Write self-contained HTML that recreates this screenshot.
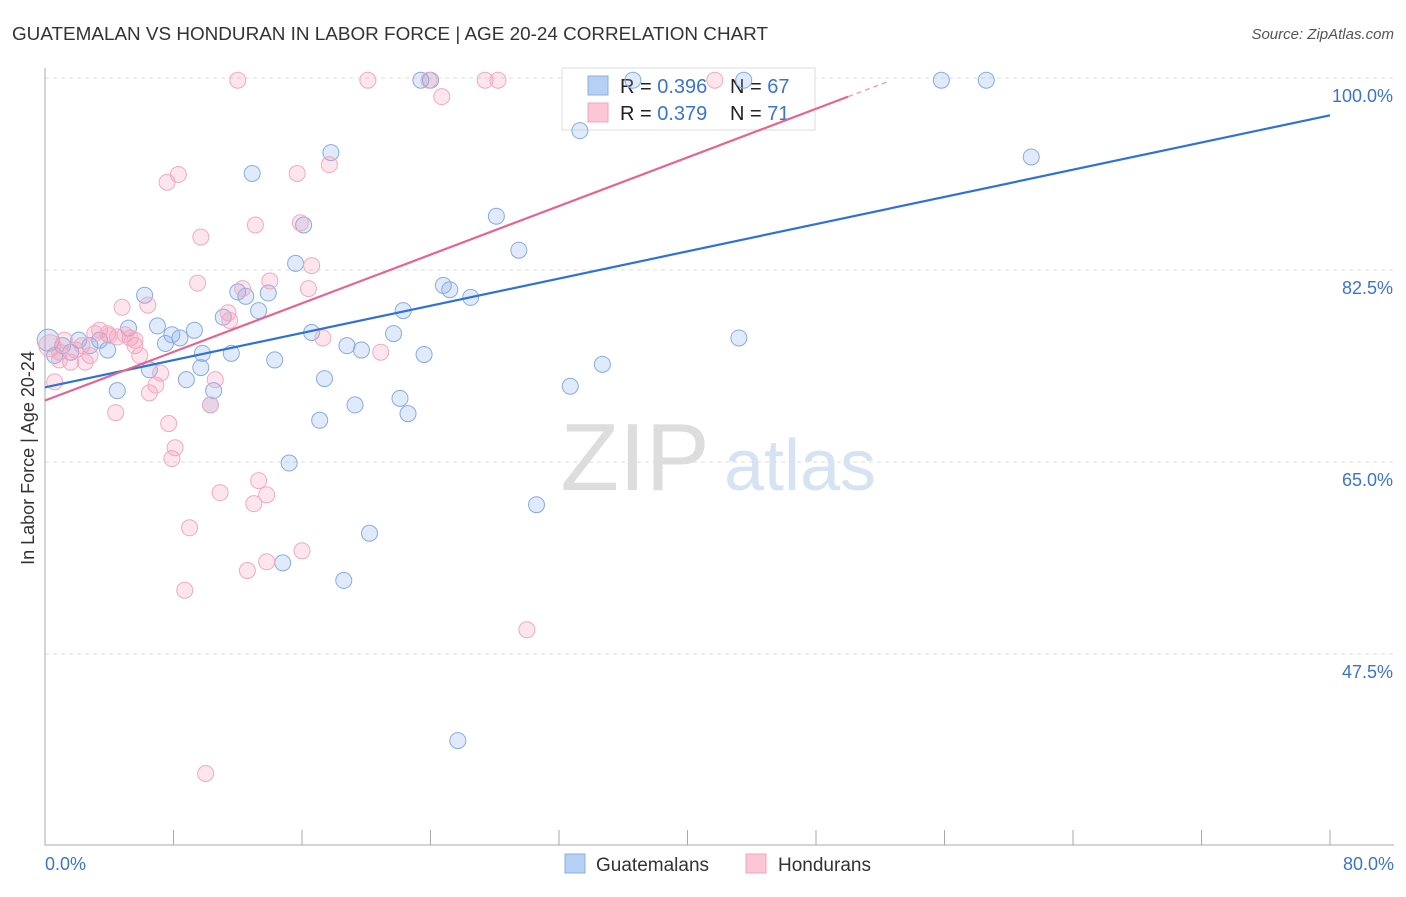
<!DOCTYPE html>
<html><head><meta charset="utf-8"><style>
body{margin:0;background:#fff;font-family:"Liberation Sans",sans-serif;}
svg text{font-family:"Liberation Sans",sans-serif;}
</style></head><body>
<svg id="c" width="1406" height="892" xmlns="http://www.w3.org/2000/svg">
<text x="12" y="40" font-size="18" fill="#333" textLength="756" lengthAdjust="spacingAndGlyphs">GUATEMALAN VS HONDURAN IN LABOR FORCE | AGE 20-24 CORRELATION CHART</text>
<text x="1394" y="39" font-size="15" fill="#555" text-anchor="end" font-style="italic">Source: ZipAtlas.com</text>
<text x="34" y="458" font-size="18" fill="#333" text-anchor="middle" transform="rotate(-90 34 458)">In Labor Force | Age 20-24</text>
<g><text x="635" y="490" font-size="96" fill="#ddd" text-anchor="middle" font-family="Liberation Serif">ZIP</text><text x="800" y="490" font-size="72" fill="#d6e3f3" text-anchor="middle">atlas</text></g>
<g id="grid"></g>
<g>
<rect x="562" y="68" width="253" height="62" fill="#fff" stroke="#ddd"/>
<rect x="588" y="76" width="20" height="19" fill="#b6d0f3" stroke="#8ab0e6"/>
<rect x="588" y="103" width="20" height="19" fill="#fbc6d5" stroke="#f3a4bd"/>
<text x="620" y="93" font-size="20" fill="#222">R = <tspan fill="#3b74d0">0.396</tspan></text>
<text x="730" y="93" font-size="20" fill="#222">N = <tspan fill="#3b74d0">67</tspan></text>
<text x="620" y="120" font-size="20" fill="#222">R = <tspan fill="#3b74d0">0.379</tspan></text>
<text x="730" y="120" font-size="20" fill="#222">N = <tspan fill="#3b74d0"> 71</tspan></text>
</g>
<g id="pts"></g><g id="lines"></g>
<g>
<rect x="565" y="854" width="20" height="19" fill="#b6d0f3" stroke="#8ab0e6"/>
<text x="596" y="871" font-size="19" fill="#333">Guatemalans</text>
<rect x="746" y="854" width="20" height="19" fill="#fbc6d5" stroke="#f3a4bd"/>
<text x="778" y="871" font-size="19" fill="#333">Hondurans</text>
</g>
</svg>
<script>
const yTicks=[100,82.5,65,47.5];
const yTickLabels=["100.0%","82.5%","65.0%","47.5%"];
const xTickLabels=["0.0%","80.0%"];
const blueX=[0.2,0.6,1.1,1.6,2.1,2.8,3.4,3.9,4.5,5.2,6.2,6.5,7.0,7.5,7.9,8.4,8.8,9.3,9.7,9.8,10.3,10.5,11.1,11.6,12.0,12.5,12.9,13.3,13.9,14.3,15.2,14.8,15.6,16.1,16.6,17.1,17.4,17.8,18.6,18.8,19.3,19.7,20.2,21.7,22.1,22.3,22.6,23.6,24.8,25.2,25.7,26.5,28.1,29.5,30.6,32.7,33.3,34.7,36.6,43.2,43.5,55.8,58.6,61.4,23.4,24.0];
const blueY=[76.1,74.7,75.6,75.0,76.1,75.6,76.1,75.2,71.5,77.2,80.2,73.4,77.4,75.8,76.6,76.3,72.5,77.0,73.6,74.9,70.2,71.5,78.2,74.9,80.5,80.1,91.3,78.8,80.4,74.3,64.9,55.8,83.1,86.6,76.8,68.8,72.6,93.2,54.2,75.6,70.2,75.2,58.5,76.7,70.8,78.8,69.4,74.8,81.1,80.7,39.6,80.0,87.4,84.3,61.1,71.9,95.2,73.9,99.8,76.3,99.8,99.8,99.8,92.8,99.8,99.8];
const pinkX=[0.3,0.6,0.9,1.2,1.6,1.9,2.3,2.8,3.1,3.4,3.9,4.4,4.5,4.8,5.3,5.6,5.9,6.4,6.5,6.9,7.2,7.6,7.7,7.9,8.1,8.3,8.7,9.0,9.5,9.7,10.0,10.3,10.6,10.9,11.4,11.5,12.0,12.3,12.6,13.0,13.1,13.3,13.8,13.8,14.0,15.7,15.9,16.0,16.4,16.6,17.3,17.7,20.1,20.9,23.9,24.7,27.4,28.2,30.0,41.7,0.9,4.0,2.5,5.6,5.0];
const pinkY=[75.6,72.3,75.0,76.1,74.1,75.2,75.6,74.7,76.7,77.0,76.7,69.5,76.4,79.1,76.3,75.6,74.7,79.3,71.3,72.0,73.1,90.5,68.5,65.3,66.3,91.2,53.3,59.0,81.3,85.5,36.6,70.2,72.5,62.2,78.6,77.9,99.8,80.8,55.1,61.2,86.6,63.3,62.0,55.9,81.5,91.3,86.8,56.9,80.8,82.9,76.3,92.1,99.8,75.0,99.8,98.3,99.8,99.8,49.7,99.8,74.3,76.5,74.1,76.1,76.6];
const trendIntercept=[71.8,70.6];
const trendSlope=[0.31,0.554];
const NS="http://www.w3.org/2000/svg";
const xs=v=>45+v/80*1285;
const ys=v=>78+(100-v)*10.97;
function mk(t,a,p){const e=document.createElementNS(NS,t);for(const k in a)e.setAttribute(k,a[k]);p.appendChild(e);return e;}
const grid=document.getElementById('grid');
yTicks.forEach((t,i)=>{
 const l=mk('line',{x1:45,x2:1394,y1:ys(t),y2:ys(t),stroke:'#ddd','stroke-dasharray':'4,4'},grid);
 
 
 const tx=mk('text',{x:1393,y:ys(t)+24,'font-size':18,fill:'#3b74d0','text-anchor':'end'},grid);
 tx.textContent=yTickLabels[i];
 
 
});
const ax=mk('line',{x1:45,x2:1394,y1:845,y2:845,stroke:'#aaa'},grid);


const ay=mk('line',{x1:45,x2:45,y1:68,y2:845,stroke:'#aaa'},grid);


for(let i=0;i<=10;i++){const t=mk('line',{x1:xs(i*8),x2:xs(i*8),y1:830,y2:845,stroke:'#aaa'},grid);
 
 }
[[0,'start',45],[80,'end',1394]].forEach((d,i)=>{const t=mk('text',{x:d[2],y:870,'font-size':18,fill:'#3b74d0','text-anchor':d[1]},grid);t.textContent=xTickLabels[i];
 
 });
const pts=document.getElementById('pts');
function series(X,Y,fill,stroke,name){X.forEach((x,i)=>{const c=mk('circle',{cx:xs(x),cy:ys(Y[i]),r:(x<0.5?11:8),fill:fill,stroke:stroke,'stroke-width':1},pts);
 
 });}
series(blueX,blueY,'rgba(130,170,235,0.25)','#85ace6','guatemalan-point');
series(pinkX,pinkY,'rgba(245,150,180,0.25)','#f2aac2','honduran-point');
const lines=document.getElementById('lines');
const b=mk('line',{x1:xs(0),y1:ys(trendIntercept[0]),x2:xs(80),y2:ys(trendIntercept[0]+80*trendSlope[0]),stroke:'#2f72d6','stroke-width':2.2},lines);


const p=mk('line',{x1:xs(0),y1:ys(trendIntercept[1]),x2:xs(50),y2:ys(trendIntercept[1]+50*trendSlope[1]),stroke:'#e8648f','stroke-width':2.2},lines);


const pd=mk('line',{x1:xs(50),y1:ys(trendIntercept[1]+50*trendSlope[1]),x2:xs(52.5),y2:ys(trendIntercept[1]+52.5*trendSlope[1]),stroke:'#f0a3bc','stroke-width':1.5,'stroke-dasharray':'5,4'},lines);


</script>
</body></html>
